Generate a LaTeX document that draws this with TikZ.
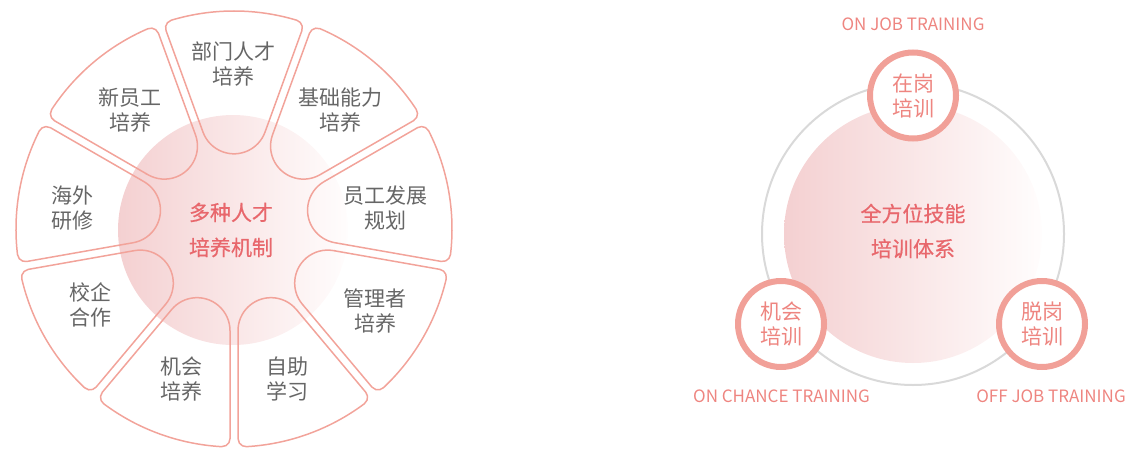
\documentclass[tikz,border=0pt]{standalone}
\usepackage{fontspec}
\setmainfont{Noto Sans CJK SC}
\newfontfamily\cjkbold[FakeBold=0.6]{Noto Sans CJK SC}
\definecolor{segline}{HTML}{F2A39A}
\definecolor{ringred}{HTML}{F1A098}
\definecolor{lbltext}{HTML}{666666}
\definecolor{salmontext}{HTML}{EE8580}
\definecolor{centertext}{HTML}{E8676C}
\definecolor{grayring}{HTML}{D9D9D9}
\definecolor{pinkL}{HTML}{F4D0D1}
\definecolor{pinkR}{HTML}{FFFDFD}
\begin{document}
\begin{tikzpicture}[x=1pt,y=1pt,
  seg/.style={draw=segline, line width=1.5pt},
  lbl/.style={text=lbltext, font=\fontsize{21}{25}\selectfont, align=center, inner sep=0pt},
  ctr/.style={text=centertext, font=\cjkbold\fontsize{21}{35}\selectfont, align=center, inner sep=0pt},
  smallc/.style={circle, draw=ringred, line width=6pt, fill=white, minimum size=86pt, inner sep=0pt,
     text=salmontext, font=\fontsize{21}{25}\selectfont, align=center},
  eng/.style={text=salmontext, font=\fontsize{17}{20}\selectfont, inner sep=0pt},
  grad/.style={left color=pinkL, right color=pinkR}]
\useasboundingbox (0,0) rectangle (1126,448);

% ---------- left wheel ----------
\shade[grad] (233,218) circle[radius=115pt];
\foreach \a in {90,50,10,-30,-70,-110,-150,170,130}{
  \draw[seg, shift={(234,219)}, rotate=\a]
    (96.90,31.01) -- (198.39,67.95)
    arc[start angle=110, end angle=16.72, radius=8pt]
    arc[start angle=16.72, end angle=-16.72, radius=218pt]
    arc[start angle=-16.72, end angle=-110, radius=8pt]
    -- (96.90,-31.01)
    arc[start angle=250, end angle=110, radius=33pt] -- cycle;
}
\node[ctr] (wheelc) at (231,218) {多种人才\\培养机制};
\node[lbl] (s1) at (233,383.5) {部门人才\\培养};
\node[lbl] (s2) at (340,338) {基础能力\\培养};
\node[lbl] (s3) at (385,240) {员工发展\\规划};
\node[lbl] (s4) at (375,137) {管理者\\培养};
\node[lbl] (s5) at (287,69) {自助\\学习};
\node[lbl] (s6) at (181,69) {机会\\培养};
\node[lbl] (s7) at (90,143) {校企\\合作};
\node[lbl] (s8) at (72,240) {海外\\研修};
\node[lbl] (s9) at (130,338) {新员工\\培养};

% ---------- right diagram ----------
\draw[grayring, line width=2pt] (913,214) circle[radius=151pt];
\shade[grad] (913,214) circle[radius=129pt];
\node[ctr] (sysc) at (913,217) {全方位技能\\培训体系};
\node[smallc] (onjob) at (913,352.5) {在岗\\培训};
\node[smallc] (chance) at (781,124) {机会\\培训};
\node[smallc] (offjob) at (1042,124) {脱岗\\培训};
\node[eng] (onjobt) at (913,424) {ON JOB TRAINING};
\node[eng] (chancet) at (781.5,52) {ON CHANCE TRAINING};
\node[eng] (offjobt) at (1051,52) {OFF JOB TRAINING};
\end{tikzpicture}
\end{document}
